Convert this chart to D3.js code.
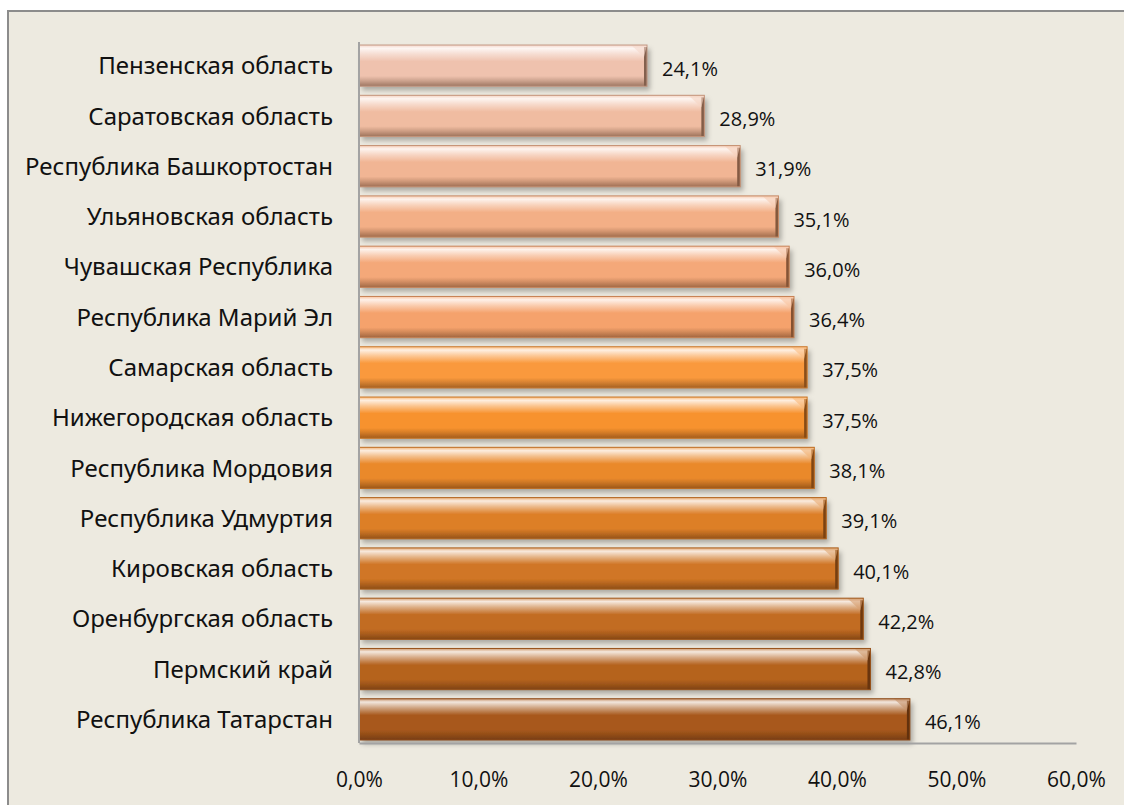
<!DOCTYPE html>
<html><head><meta charset="utf-8">
<script src="https://cdn.jsdelivr.net/npm/d3@7"></script>
<style>
html,body{margin:0;padding:0;background:#fff;}
svg{display:block;}
</style></head>
<body>
<svg id="chart" width="1124" height="805"></svg>
<script>
const categories = [
  "Пензенская область","Саратовская область","Республика Башкортостан","Ульяновская область",
  "Чувашская Республика","Республика Марий Эл","Самарская область","Нижегородская область",
  "Республика Мордовия","Республика Удмуртия","Кировская область","Оренбургская область",
  "Пермский край","Республика Татарстан"
];
const values = [24.1,28.9,31.9,35.1,36.0,36.4,37.5,37.5,38.1,39.1,40.1,42.2,42.8,46.1];
const tickValues = [0,10,20,30,40,50,60];

const svg = d3.select("#chart");
const W = 1124, H = 805;
const x0 = 359, x1 = 1076, yTop = 40.5, yBot = 744.5;

svg.append("rect").attr("x",0).attr("y",0).attr("width",W).attr("height",H).attr("fill","#ffffff");
svg.append("rect").attr("x",8).attr("y",11).attr("width",W).attr("height",H)
  .attr("fill","#EDEAE0").attr("stroke","#8c8c8c").attr("stroke-width",2);

const x = d3.scaleLinear().domain([0,60]).range([x0,x1]);
const y = d3.scaleBand().domain(categories).range([yTop,yBot]).paddingInner(0.18).paddingOuter(0.09);

const colorScale = d3.scaleLinear().domain([0,5,6,7,13])
  .range(["#EFC2AE","#F5A26C","#FA993C","#F7922E","#A8591C"]).interpolate(d3.interpolateRgb);

const defs = svg.append("defs");
const flt = defs.append("filter").attr("id","shadow").attr("x","-5%").attr("y","-20%").attr("width","115%").attr("height","160%");
flt.append("feDropShadow").attr("dx",3).attr("dy",4).attr("stdDeviation",2.5).attr("flood-color","#000").attr("flood-opacity",0.28);

categories.forEach((c,i)=>{
  const base = d3.rgb(colorScale(i));
  const light = d3.interpolateRgb(base,"#ffffff");
  const dark = d3.interpolateRgb(base,"#3a1a05");
  const g = defs.append("linearGradient").attr("id","g"+i).attr("x1",0).attr("y1",0).attr("x2",0).attr("y2",1);
  [[0,light(0.35)],[0.08,light(0.85)],[0.22,light(0.45)],[0.4,base.formatHex()],[0.75,base.formatHex()],[0.86,dark(0.18)],[1,dark(0.45)]]
    .forEach(([o,col])=>g.append("stop").attr("offset",o).attr("stop-color",col));
});

const bars = svg.append("g").selectAll("g.bar").data(categories).join("g").attr("class","bar");
bars.append("rect")
  .attr("x",x(0)).attr("y",d=>y(d))
  .attr("width",(d,i)=>x(values[i])-x(0)).attr("height",y.bandwidth())
  .attr("fill",(d,i)=>`url(#g${i})`)
  .attr("filter","url(#shadow)");
bars.append("rect")
  .attr("x",(d,i)=>x(values[i])-3).attr("y",d=>y(d)+2)
  .attr("width",3).attr("height",y.bandwidth()-2)
  .attr("fill",(d,i)=>d3.interpolateRgb(colorScale(i),"#2a1000")(0.55));
bars.append("path")
  .attr("d",(d,i)=>{const xe=x(values[i]), yt=y(d); return `M${xe-16},${yt} L${xe},${yt} L${xe-3},${yt+12} Z`;})
  .attr("fill",(d,i)=>d3.interpolateRgb(colorScale(i),"#ffffff")(0.35)).attr("opacity",0.6);
bars.append("rect")
  .attr("x",x(0)).attr("y",d=>y(d))
  .attr("width",(d,i)=>x(values[i])-x(0)).attr("height",y.bandwidth())
  .attr("fill","none")
  .attr("stroke",(d,i)=>d3.interpolateRgb(colorScale(i),"#3a1a05")(0.25)).attr("stroke-width",1);

const xAxis = d3.axisBottom(x).tickValues(tickValues).tickSize(0)
  .tickFormat(d=>d3.format(".1f")(d).replace(".",",")+"%");
const gx = svg.append("g").attr("transform",`translate(0,${743})`).call(xAxis);
gx.select(".domain").attr("stroke","#a3a3a3").attr("stroke-width",2);
gx.selectAll("text").attr("font-family","'Open Sans', sans-serif").attr("font-size",21)
  .attr("fill","#111").attr("dy","1.95em");

const yAxis = d3.axisLeft(y).tickSize(0).tickPadding(26);
const gy = svg.append("g").attr("transform",`translate(${x0},0)`).call(yAxis);
gy.select(".domain").attr("d",`M0,${42}V${743}`).attr("stroke","#a3a3a3").attr("stroke-width",2);
gy.selectAll("text").attr("font-family","'Noto Sans', sans-serif").attr("font-size",24)
  .attr("fill","#111").attr("dy","0.36em");

svg.append("g").selectAll("text").data(categories).join("text")
  .attr("x",(d,i)=>x(values[i])+15)
  .attr("y",d=>y(d)+y.bandwidth()/2+3)
  .attr("dy","0.35em")
  .attr("font-family","'Open Sans', sans-serif").attr("font-size",20).attr("fill","#111")
  .text((d,i)=>d3.format(".1f")(values[i]).replace(".",",")+"%");
</script>
</body></html>
